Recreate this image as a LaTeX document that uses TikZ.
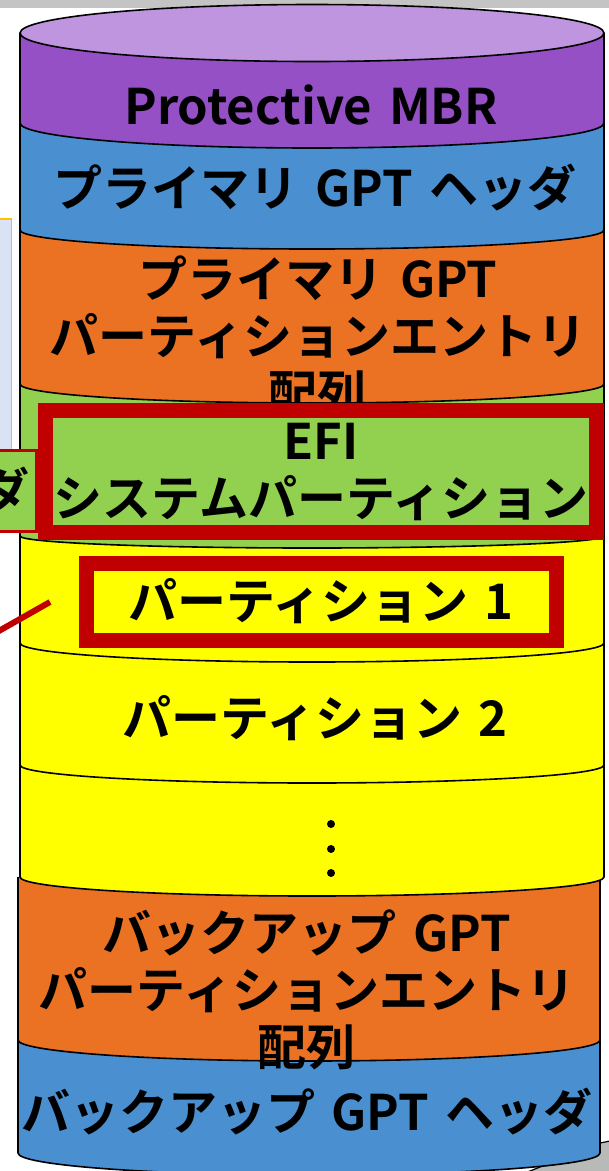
\documentclass[tikz,border=0pt]{standalone}
\usepackage{fontspec}
\newfontfamily\jpfont{Noto Sans CJK JP}[BoldFont={Noto Sans CJK JP Bold}, WordSpace=1.5]
\usetikzlibrary{positioning}

\definecolor{cgray}{HTML}{C4C4C4}
\definecolor{cgraydk}{HTML}{B8BAB8}
\definecolor{cpurplelt}{HTML}{C095DF}
\definecolor{cpurple}{HTML}{9450C4}
\definecolor{cblue}{HTML}{4A8FD0}
\definecolor{corange}{HTML}{EB7123}
\definecolor{cgreen}{HTML}{92D050}
\definecolor{cyellow}{HTML}{FFFF00}
\definecolor{cred}{HTML}{C00000}
\definecolor{cpale}{HTML}{DAE3F3}
\definecolor{cgold}{HTML}{FFC000}

\begin{document}
\begin{tikzpicture}[x=1pt, y=-1pt,
    band/.style={draw=black, line width=1.6pt},
    lbl/.style={font=\jpfont\bfseries\fontsize{49}{57}\selectfont, align=center, inner sep=0pt},
    redbox/.style={lbl, draw=cred, line width=15pt}]

\useasboundingbox (0,0) rectangle (609,1171);
\clip (0,0) rectangle (609,1171);

% things behind the disk
\fill[cgray] (0,0) rectangle (609,8);
\filldraw[fill=cgraydk, draw=black, line width=1.2pt] (520,1175) -- (600,1143) -- (615,1140) -- (615,1175) -- cycle;

% disk layers, bottom first
\filldraw[band, fill=cblue] (18,1040) -- (18,1153) arc[start angle=180, end angle=0, x radius=291, y radius=22] -- (600,1040);
\filldraw[band, fill=corange] (18,877) -- (18,1040) arc[start angle=180, end angle=0, x radius=291, y radius=21] -- (600,877);
\filldraw[band, fill=cyellow] (20,765) -- (20,877) arc[start angle=180, end angle=0, x radius=292, y radius=19] -- (604,765);
\filldraw[band, fill=cyellow] (20,643) -- (20,765) arc[start angle=180, end angle=0, x radius=292, y radius=18] -- (604,643);
\filldraw[band, fill=cyellow] (20,536) -- (20,643) arc[start angle=180, end angle=0, x radius=292, y radius=19] -- (604,536);
\filldraw[band, fill=cgreen] (20,384) -- (20,536) arc[start angle=180, end angle=0, x radius=292, y radius=12] -- (604,384);
\filldraw[band, fill=corange] (20,230) -- (20,384) arc[start angle=180, end angle=0, x radius=292, y radius=19] -- (604,230);
\filldraw[band, fill=cblue] (20,123) -- (20,230) arc[start angle=180, end angle=0, x radius=292, y radius=19] -- (604,123);
\filldraw[band, fill=cpurple] (20,33) -- (20,123) arc[start angle=180, end angle=0, x radius=292, y radius=25] -- (604,33);
\filldraw[band, fill=cpurplelt] (312,33) ellipse[x radius=292, y radius=28.5];

% layer labels
\node[lbl] (mbr) at (311,105) {Protective MBR};
\node[lbl] (hdr) at (315,188) {プライマリ GPT ヘッダ};
\node[lbl] (ent) at (318,336) {プライマリ GPT\\パーティションエントリ\\配列};
\node[redbox, fill=cgreen, minimum width=551pt, minimum height=122pt] (efi) at (321,471.5) {EFI\\システムパーティション};
\node[redbox, fill=cyellow, minimum width=470pt, minimum height=77pt] (p1) at (321,601.5) {パーティション 1};
\node[lbl] (p2) at (315,718) {パーティション 2};
\foreach \yy in {824,849,873}
    \fill (331,\yy) circle[radius=4];
\node[lbl] (bent) at (307,990) {バックアップ GPT\\パーティションエントリ\\配列};
\node[lbl] (bhdr) at (307,1112) {バックアップ GPT ヘッダ};

% cut-off shapes on the left
\node[draw=cgold, fill=cpale, line width=1.5pt, minimum width=60pt, minimum height=260pt, anchor=north east] (memo) at (12,218) {};
\node[lbl, draw=cred, fill=cgreen, line width=3pt, anchor=east, text width=120pt, align=right,
      inner xsep=7pt, minimum height=81pt] (tag) at (38,490.5) {ダ};
\coordinate (lnA) at (-10,636);
\coordinate (lnB) at (50,602);
\draw[cred, line width=6pt] (lnA) -- (lnB);
\end{tikzpicture}
\end{document}
